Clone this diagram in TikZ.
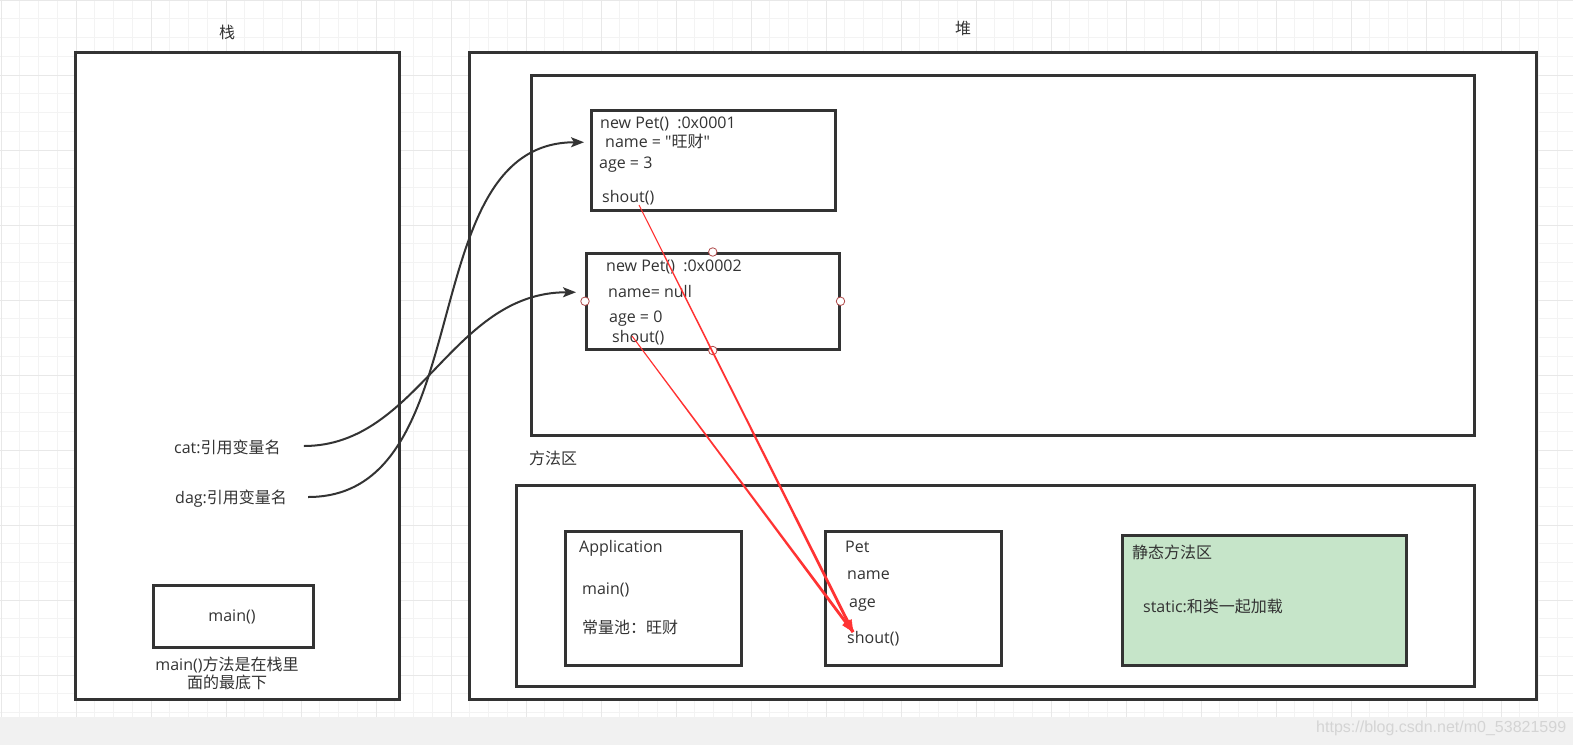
\documentclass[tikz,border=0pt]{standalone}
\usepackage{fontspec}
\setmainfont{Open Sans}
\newfontfamily\rawfont{Open Sans}[Ligatures=ResetAll]
\newfontfamily\cjk{Noto Sans CJK SC}
\newfontfamily\markfont{Liberation Sans}
\usetikzlibrary{arrows.meta,calc}
\definecolor{Ink}{HTML}{333333}
\definecolor{GridMinor}{HTML}{F3F3F3}
\definecolor{GridMajor}{HTML}{E8E8E8}
\definecolor{Band}{HTML}{F1F1F1}
\definecolor{Leaf}{HTML}{C6E5C9}
\definecolor{Alarm}{HTML}{FF3333}
\definecolor{Ring}{HTML}{B04A4A}
\definecolor{Mark}{HTML}{D4D4D4}
\newcommand{\dquote}{{\rawfont\symbol{34}}}

\begin{document}
\begin{tikzpicture}[x=1pt, y=-1pt,
    box/.style={draw=Ink, line width=2.5pt, fill=white, anchor=north west, inner sep=0pt},
    txt/.style={text=Ink, anchor=west, inner sep=0pt, text height=11.5pt, text depth=0pt, font=\fontsize{16}{18}\selectfont},
    ctxt/.style={txt, anchor=center},
    port/.style={circle, draw=Ring, fill=white, line width=0.8pt, minimum size=8.5pt, inner sep=0pt},
    link/.style={draw=Ink, line width=2pt, -{Stealth[length=13pt, width=10pt, inset=3pt]}}]
  \useasboundingbox (0,0) rectangle (1573,745);
  % grid paper
  \fill[white] (0,0) rectangle (1573,717);
  \foreach \k in {0,...,83} \draw[GridMinor, line width=1pt] ({1+\k*18.75},0) -- ({1+\k*18.75},717);
  \foreach \k in {0,...,38} \draw[GridMinor, line width=1pt] (0,{\k*18.75}) -- (1573,{\k*18.75});
  \foreach \k in {0,...,20} \draw[GridMajor, line width=1pt] ({1+\k*75},0) -- ({1+\k*75},717);
  \foreach \k in {0,...,9} \draw[GridMajor, line width=1pt] (0,{\k*75}) -- (1573,{\k*75});
  \fill[Band] (0,717) rectangle (1573,745);
  \node[anchor=west, inner sep=0pt, text=Mark, font=\markfont\fontsize{16}{18}\selectfont] (mark) at (1316,728) {https://blog.csdn.net/m0\_53821599};

  \node[box, minimum width=324pt, minimum height=647pt] (stack) at (74,51) {};
  \node[box, minimum width=1067pt, minimum height=647pt] (heap) at (468,51) {};
  \node[box, minimum width=943pt, minimum height=360pt] (objarea) at (530,74) {};
  \node[box, minimum width=958pt, minimum height=201pt] (method) at (515,484) {};
  \node[box, minimum width=244pt, minimum height=100pt] (pet1) at (590,109) {};
  \node[box, minimum width=253pt, minimum height=96pt] (pet2) at (585,252) {};
  \node[box, minimum width=160pt, minimum height=62pt] (mainbox) at (152,584) {};
  \node[box, minimum width=176pt, minimum height=134pt] (app) at (564,530) {};
  \node[box, minimum width=176pt, minimum height=134pt] (petcls) at (824,530) {};
  \node[box, fill=Leaf, minimum width=284pt, minimum height=130pt] (static) at (1121,534) {};

  \node[ctxt] (stacklbl) at (227,33) {\cjk 栈};
  \node[ctxt] (heaplbl) at (963,29) {\cjk 堆};
  \node[txt] (methodlbl) at (529,459) {\cjk 方法区};
  \node[txt] (catlbl) at (174,448) {cat:{\cjk 引用变量名}};
  \node[txt] (daglbl) at (175,498) {dag:{\cjk 引用变量名}};
  \node[ctxt] (mainlbl) at (232,616) {main()};
  \node[ctxt] (mainnote) at (227,665) {main(){\cjk 方法是在栈里}};
  \node[ctxt] (mainnote2) at (227,683) {\cjk 面的最底下};

  \node[txt] (p1head) at (600,123) {new Pet()\ \ :0x0001};
  \node[txt] (p1name) at (605,142) {name = \dquote{\cjk 旺财}\dquote};
  \node[txt] (p1age) at (599,163) {age = 3};
  \node[txt] (p1shout) at (602,197) {shout()};

  \node[txt] (p2head) at (606,266) {new Pet()\ \ :0x0002};
  \node[txt] (p2name) at (608,292) {name= null};
  \node[txt] (p2age) at (609,317) {age = 0};
  \node[txt] (p2shout) at (612,337) {shout()};

  \node[txt] (apphead) at (579,547) {Application};
  \node[txt] (appmain) at (582,589) {main()};
  \node[txt] (apppool) at (582,628) {\cjk 常量池：旺财};

  \node[txt] (pethead) at (845,547) {Pet};
  \node[txt] (petname) at (847,574) {name};
  \node[txt] (petage) at (849,602) {age};
  \node[txt] (petshout) at (847,638) {shout()};

  \node[txt] (stathead) at (1132,553) {\cjk 静态方法区};
  \node[txt] (statnote) at (1143,607) {static:{\cjk 和类一起加载}};

  \node[port] (pet2n) at (pet2.north) {};
  \node[port] (pet2w) at (pet2.west) {};
  \node[port] (pet2e) at (pet2.east) {};
  \node[port] (pet2s) at (pet2.south) {};

  \draw[link] ([xshift=23pt, yshift=2pt]catlbl.east) .. controls +(115,0) and +(-125,0) .. ([xshift=-9pt, yshift=9pt]pet2.west);
  \draw[link] ([xshift=21pt, yshift=1pt]daglbl.east) .. controls +(175,0) and +(-175,0) .. ([xshift=-6pt, yshift=18pt]pet1.west);

  % method calls into the class
  \coordinate (r1s) at (639,205);
  \coordinate (r2s) at (632,336);
  \coordinate (rend) at ($(petshout.west)+(6,-6)$);
  \foreach \s in {r1s,r2s} {
    \fill[Alarm] ($(\s)!0.5pt!90:(rend)$) -- ($(rend)!1.5pt!-90:(\s)$) -- ($(rend)!1.5pt!90:(\s)$) -- ($(\s)!0.5pt!-90:(rend)$) -- cycle;
    \draw[Alarm, line width=0.5pt, -{Triangle[length=12pt, width=9pt]}] ($(rend)!14pt!(\s)$) -- (rend);
  }
\end{tikzpicture}
\end{document}
